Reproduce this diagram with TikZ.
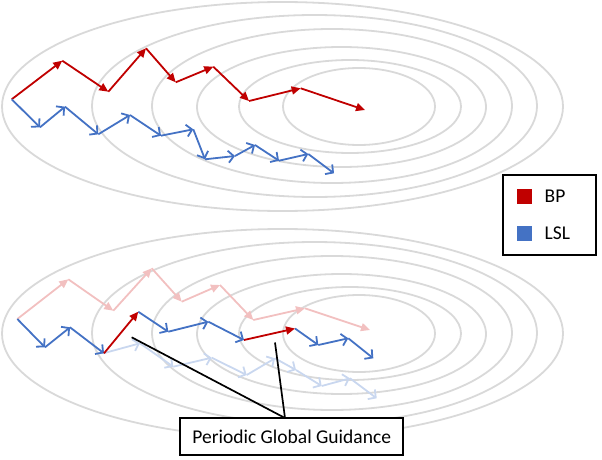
\documentclass[tikz,border=0pt]{standalone}
\usepackage{fontspec}
\setmainfont{Carlito}
\usetikzlibrary{arrows.meta}
\definecolor{bpred}{HTML}{C00000}
\definecolor{lslblue}{HTML}{4472C4}
\definecolor{fadered}{HTML}{F2C0C0}
\definecolor{fadeblue}{HTML}{C9D7EF}
\definecolor{contour}{HTML}{D9D9D9}
\begin{document}
\begin{tikzpicture}[x=1pt,y=-1pt,
  ell/.style={draw=contour, line width=1.8pt},
  redstep/.style={draw=bpred, line width=1.8pt, -{Triangle[length=9pt,width=8pt]}},
  bluestep/.style={draw=lslblue, line width=1.8pt, -{Straight Barb[length=5.5pt,width=12pt,line width=1.8pt]}},
  fredstep/.style={draw=fadered, line width=1.8pt, -{Triangle[length=9pt,width=8pt]}},
  fbluestep/.style={draw=fadeblue, line width=1.8pt, -{Straight Barb[length=5.5pt,width=12pt,line width=1.8pt]}},
  callout/.style={draw=black, line width=1.7pt},
  labelbox/.style={draw=black, line width=2pt, fill=white},
  legtext/.style={font=\fontsize{19.5}{23}\selectfont, anchor=west, inner sep=0pt}
]
\useasboundingbox (0,0) rectangle (602,460);

% contour ellipses (top and bottom sets)
\foreach \dy in {0,227}{
  \foreach \cx/\cy/\rx/\ry in {359/106.5/76/38.5, 350/106.5/111/46.5, 341.5/107/144.5/60, 332/106/180/77, 314.5/106/222.5/91, 282.5/106.5/280.5/104.5}{
    \draw[ell] (\cx,\cy+\dy) ellipse [x radius=\rx pt, y radius=\ry pt];
  }
}

% ---------- top: BP path ----------
\foreach \x/\y [count=\i] in {11.7/99.3, 62.3/60.7, 108.3/91.7, 146/48.3, 175.7/82.3, 213.3/66.7, 249/101, 300.7/88.3, 365/110}
  {\coordinate (tr\i) at (\x,\y);}
\foreach \i [remember=\i as \j (initially 1)] in {2,...,9}
  {\draw[redstep] (tr\j) -- (tr\i);}

% ---------- top: LSL path ----------
\foreach \x/\y [count=\i] in {11.7/99.3, 40/127.3, 65/106.7, 98.3/134.3, 130/115, 161/135.7, 193.3/129.3, 205/159.3, 235/156, 255/145, 279/160.7, 308.3/154, 334/173.3}
  {\coordinate (tb\i) at (\x,\y);}
\foreach \i [remember=\i as \j (initially 1)] in {2,...,13}
  {\draw[bluestep] (tb\j) -- (tb\i);}

% ---------- bottom: faded BP path ----------
\foreach \x/\y [count=\i] in {17.3/319, 68.3/279.3, 113.3/310.7, 151.7/268.3, 181.7/301.7, 220/285, 253.3/320, 305/308.3, 370/330}
  {\coordinate (fr\i) at (\x,\y);}
\foreach \i [remember=\i as \j (initially 1)] in {2,...,9}
  {\draw[fredstep] (fr\j) -- (fr\i);}

% ---------- bottom: faded LSL path ----------
\foreach \x/\y [count=\i] in {103.3/353.3, 140/343.3, 173.3/366.7, 211.7/357.7, 246.7/375, 275/358.3, 296/370, 321.7/386, 350/378.3, 376.7/398.3}
  {\coordinate (fb\i) at (\x,\y);}
\foreach \i [remember=\i as \j (initially 1)] in {2,...,10}
  {\draw[fbluestep] (fb\j) -- (fb\i);}

% ---------- bottom: guided path ----------
\foreach \x/\y [count=\i] in {17.3/319, 45/347.3, 70/327.3, 104/353.3, 138.3/311.7, 168.3/331.7, 208.3/321.7, 244/340, 295/328.5, 318.3/345, 348.3/338.3, 373.3/358.3}
  {\coordinate (g\i) at (\x,\y);}
\foreach \j/\i in {1/2, 2/3, 3/4, 5/6, 6/7, 7/8, 9/10, 10/11, 11/12}
  {\draw[bluestep] (g\j) -- (g\i);}
\draw[redstep] (g4) -- (g5);
\draw[redstep] (g8) -- (g9);

% ---------- callout ----------
\coordinate (c1) at (131.7,337.3);
\coordinate (c2) at (275,342.5);
\coordinate (ctip) at (285,418);
\draw[callout] (c1) -- (ctip);
\draw[callout] (c2) -- (ctip);
\node[labelbox, minimum width=223pt, minimum height=36.7pt, inner sep=0pt,
      font=\fontsize{19.5}{23}\selectfont] (pgg) at (291.7,436.7) {Periodic Global Guidance};

% ---------- legend ----------
\node[labelbox, minimum width=92.7pt, minimum height=80pt, inner sep=0pt] (legend) at (549.7,215) {};
\node[fill=bpred, minimum size=15pt, inner sep=0pt] (sqbp) at (524.2,196.2) {};
\node[fill=lslblue, minimum size=15pt, inner sep=0pt] (sqlsl) at (524.2,233.3) {};
\node[legtext] (lbp) at (544.5,196.2) {BP};
\node[legtext] (llsl) at (544.5,233.3) {LSL};
\end{tikzpicture}
\end{document}
